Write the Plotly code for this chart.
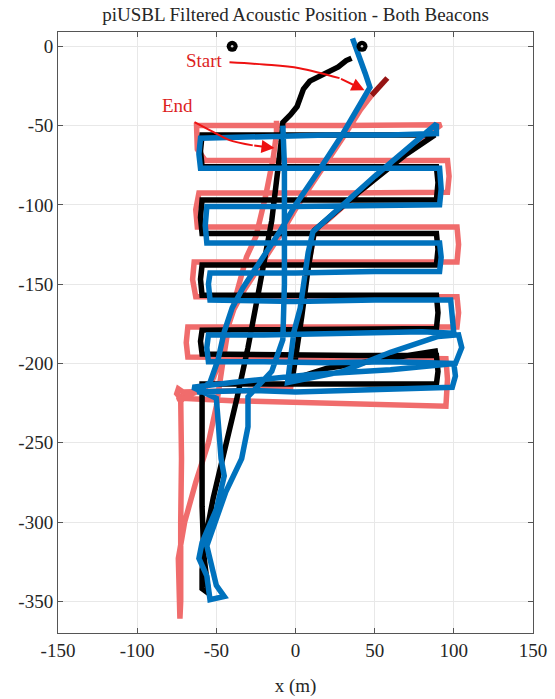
import plotly.graph_objects as go

# ---------------- data (metres) ----------------
beacon_x = [-40, 42]
beacon_y = [0, 0]

# red track (light red)
red_x = [48, 41, 31, 16, 1, -9, -21, -32, -39, -44, -48, -53, -60, -72,
         -40, 0, 50, 95, 96, 95,
         40, -20, -68, -69, -68,
         40, 102, 103, 102,
         20, -63, -65, -64,
         30, 102, 103, 102,
         20, -62, -63, -61,
         30, 96, 97, 96,
         20, -57, -62, -62.5,
         30, 92,
         70, 40, 12, 6, 0, -3,
         -30, -60, -71, -74, -75, -72.5, -72, -72.5, -72, -72.5, -73,
         -74, -74, -70, -63, -55, -50, -46, -42, -37, -31, -25, -19, -14, -12, -12]
red_y = [-31, -40, -56, -79, -101, -118, -136, -153, -166, -181, -199, -212, -217, -222,
         -223.5, -224.5, -226, -227, -210, -197,
         -196.5, -196, -196, -187, -177,
         -177, -177, -168, -158,
         -158, -158, -147, -136,
         -136, -136, -125, -114,
         -114, -114, -103, -92.5,
         -92.5, -92, -82, -72,
         -72, -72, -65, -50,
         -50, -49.5,
         -66, -92, -117, -150, -190, -215,
         -217, -218, -218, -216, -219, -222, -260, -300, -330, -350, -361,
         -340, -323, -300, -275, -250, -227, -200, -175, -155, -133, -120, -95, -70, -55, -47]

# dark red start segment
dred_x = [58, 48]
dred_y = [-20, -31]

# black track
blk_x = [35.4, 32, 27, 21, 15, 9, 5, 3, 1, -3, -8,
         -9, -12, -15, -23, -30, -37, -45, -52, -56, -59, -59, -55,
         -58, -59, -59, -59, -59, -59,
         0, 50, 89, 90, 89,
         40, -20, -59, -60, -59,
         30, 89, 90, 89,
         20, -59, -60, -59,
         30, 89, 90, 89,
         20, -59, -60, -59,
         30, 89, 90, 89,
         20, -59, -60, -59,
         30, 88,
         70, 40, 12, 8, 4, 0, -2,
         20, 60, 90]
blk_y = [-7.5, -9, -13, -16, -19, -22, -27, -33, -38, -43, -48,
         -60, -82, -110, -153, -190, -222, -255, -285, -306, -330, -342, -345,
         -320, -290, -260, -235, -218, -213,
         -213, -213, -213, -205, -195,
         -195, -194.5, -194, -186, -179,
         -178.5, -178, -168, -157,
         -157, -157, -147, -138,
         -138, -138, -128, -118,
         -118, -118, -108, -97,
         -97, -97, -86, -76,
         -76, -76, -66, -56,
         -56, -56,
         -68, -92, -116, -140, -170, -200, -210,
         -203, -197, -192]

# blue track
blu_x = [36, 40, 44, 47,
         40, 30, 15, 0, -10, -22, -33, -40, -45, -49, -54, -62,
         -30, 0, 40, 80, 99, 101, 100,
         60, 20, -20, -55, -56, -55,
         -20, 30, 80, 100, 99, 98,
         50, 0, -54, -55, -54,
         0, 50, 91, 92, 91,
         40, -10, -56, -57, -56,
         0, 50, 91, 92, 91,
         40, -10, -60, -61, -60,
         -20, 20, 60, 89, 89,
         70, 50, 30, 11,
         8, 5, 3, -1, -4, -5,
         30, 60, 90, 103, 105, 101, 60, 10, -40, -65,
         -50, -47, -45, -50, -59, -61, -56, -54, -45,
         -50, -56, -52, -44, -34, -30, -30, -15, -8, -7, -7, -7, -8]
blu_y = [5, -5, -17, -26,
         -38, -55, -78, -100, -117, -135, -152, -165, -180, -198, -212, -218,
         -217, -218, -217, -216, -215, -208, -200,
         -199, -199.5, -199, -199, -190, -182,
         -182, -181, -180, -181, -170, -160,
         -160, -161, -160, -150, -143,
         -143, -142, -142, -133, -124,
         -124, -124, -124, -113, -101,
         -101, -100, -100, -90, -77,
         -77, -77, -77, -68, -58,
         -57, -56, -56, -55, -49,
         -65, -82, -100, -117,
         -130, -150, -165, -180, -200, -212,
         -205, -193, -183, -182, -190, -200, -204, -207, -212, -215,
         -222, -260, -271, -292, -313, -323, -334, -349, -347,
         -340, -315, -303, -281, -260, -240, -221, -205, -185, -150, -110, -75, -50]

# annotation arrow paths
start_arrow_x = [-41.7, -20, 2.5, 27.8, 43.6]
start_arrow_y = [-10.1, -11.5, -13.8, -20.1, -27.7]
end_arrow_x = [-63.8, -52, -41.7, -27, -13.3]
end_arrow_y = [-47.8, -54, -59.2, -62.5, -64.2]

xticks = [-150, -100, -50, 0, 50, 100, 150]
yticks = [0, -50, -100, -150, -200, -250, -300, -350]

# ---------------- figure ----------------
SERIF = "Liberation Serif, Times New Roman, serif"
RED = "rgb(240,108,108)"
BLUE = "#0072BD"
W = 5.5

fig = go.Figure()
fig.add_trace(go.Scatter(x=red_x, y=red_y, mode="lines",
                         line=dict(color=RED, width=W), hoverinfo="skip"))
fig.add_trace(go.Scatter(x=[red_x[-21]], y=[red_y[-21]], mode="markers",
                         marker=dict(color=RED, size=9), hoverinfo="skip"))
fig.add_trace(go.Scatter(x=dred_x, y=dred_y, mode="lines",
                         line=dict(color="rgb(150,20,20)", width=W), hoverinfo="skip"))
fig.add_trace(go.Scatter(x=blk_x, y=blk_y, mode="lines",
                         line=dict(color="black", width=W), hoverinfo="skip"))
fig.add_trace(go.Scatter(x=blu_x, y=blu_y, mode="lines",
                         line=dict(color=BLUE, width=W), hoverinfo="skip"))
fig.add_trace(go.Scatter(x=beacon_x, y=beacon_y, mode="markers",
                         marker=dict(color="black", size=11), hoverinfo="skip"))
fig.add_trace(go.Scatter(x=beacon_x, y=beacon_y, mode="markers",
                         marker=dict(color="#d0d0d0", size=2.5), hoverinfo="skip"))
fig.add_trace(go.Scatter(x=start_arrow_x[:-1], y=start_arrow_y[:-1], mode="lines",
                         line=dict(color="#ee1111", width=2, shape="spline"), hoverinfo="skip"))
fig.add_trace(go.Scatter(x=end_arrow_x[:-1], y=end_arrow_y[:-1], mode="lines",
                         line=dict(color="#ee1111", width=2, shape="spline"), hoverinfo="skip"))

for ax_x, ax_y in [(start_arrow_x, start_arrow_y), (end_arrow_x, end_arrow_y)]:
    fig.add_annotation(x=ax_x[-1], y=ax_y[-1], ax=ax_x[-2], ay=ax_y[-2],
                       xref="x", yref="y", axref="x", ayref="y",
                       showarrow=True, arrowhead=2, arrowsize=1.3, arrowwidth=2,
                       arrowcolor="#ee1111", text="", standoff=0)

fig.add_annotation(x=-57.5, y=-8.8, text="Start", showarrow=False,
                   font=dict(family=SERIF, size=19, color="#dd1f1f"))
fig.add_annotation(x=-74.5, y=-37.1, text="End", showarrow=False,
                   font=dict(family=SERIF, size=19, color="#dd1f1f"))

axis_common = dict(showgrid=True, gridcolor="#e8e8e8", gridwidth=1,
                   zeroline=False, showline=True, linecolor="#555555", linewidth=1,
                   mirror="ticks", ticks="inside", ticklen=5, tickcolor="#555555",
                   automargin=False,
                   tickfont=dict(family=SERIF, size=19, color="#262626"))

fig.update_layout(
    width=555, height=699,
    margin=dict(l=58, r=22, t=32, b=66),
    paper_bgcolor="white", plot_bgcolor="white",
    showlegend=False,
    title=dict(text="piUSBL Filtered Acoustic Position - Both Beacons",
               x=(58 + 533) / 2 / 555, xanchor="center",
               y=1 - 14 / 699, yanchor="middle",
               font=dict(family=SERIF, size=19, color="#262626")),
    xaxis=dict(range=[-150, 150], tickvals=xticks,
               ticktext=[str(v) for v in xticks],
               title=dict(text="x (m)", font=dict(family=SERIF, size=19, color="#262626"),
                          standoff=18),
               **axis_common),
    yaxis=dict(range=[-370, 9], tickvals=yticks,
               ticktext=[str(v) for v in yticks],
               **axis_common),
)

fig.write_html("out.html")
